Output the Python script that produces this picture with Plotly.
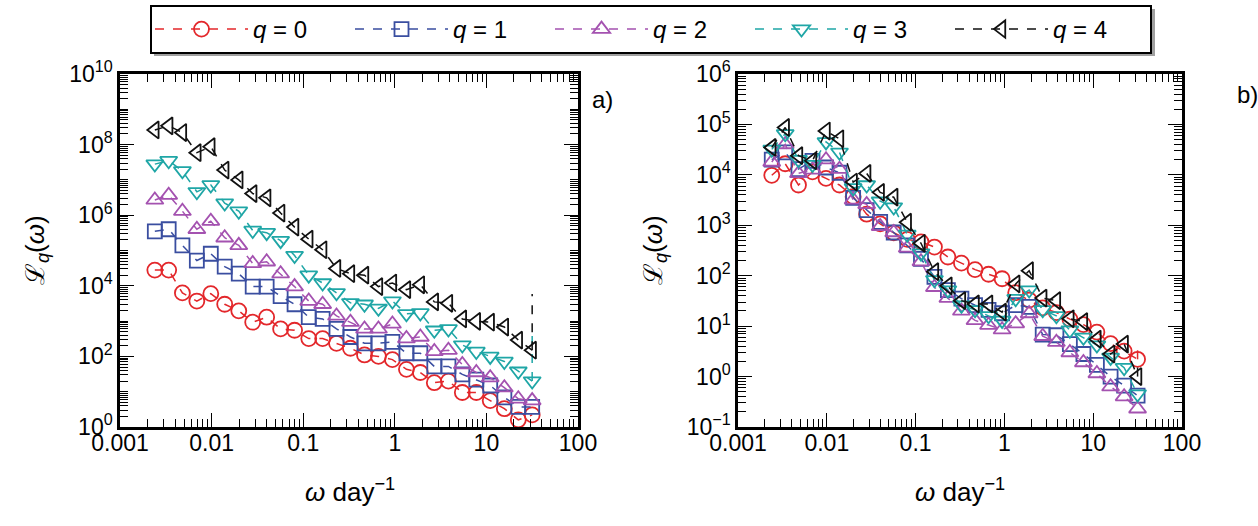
import plotly.graph_objects as go

# ---------------- data ----------------
omega = [0.0024, 0.0034, 0.0048, 0.0069, 0.0098, 0.0139, 0.0198, 0.0281, 0.0399, 0.0567,
         0.0805, 0.115, 0.163, 0.231, 0.328, 0.467, 0.663, 0.942, 1.34, 1.90,
         2.70, 3.85, 5.46, 7.76, 11.0, 15.7, 22.3, 31.6]

# panel a)
a_q0 = [2.79e4, 2.79e4, 6.3e3, 3.7e3, 6.0e3, 3.0e3, 1.95e3, 930, 1290, 600,
        550, 320, 320, 235, 170, 110, 100, 81, 43, 35,
        18, 20, 9.5, 9.5, 5.6, 3.3, 1.6, 2.2]
a_q1 = [3.5e5, 4.0e5, 1.4e5, 5.2e4, 8.1e4, 3.5e4, 2.2e4, 9.5e3, 9.5e3, 5.1e3,
        3.0e3, 1.3e3, 1.15e3, 600, 355, 235, 235, 257, 123, 123,
        52, 52, 31, 22, 15, 6.9, 3.7, 3.7]
a_q2 = [2.7e6, 3.7e6, 1.3e6, 4.0e5, 6.8e5, 2.3e5, 1.4e5, 4.3e4, 4.8e4, 2.2e4,
        9.5e3, 3.7e3, 3.0e3, 1.4e3, 930, 600, 600, 830, 320, 355,
        138, 150, 59, 35, 25, 13, 6.3, 5.6]
a_q3 = [2.8e7, 3.5e7, 1.8e7, 4.6e6, 7.2e6, 2.2e6, 1.3e6, 3.7e5, 3.2e5, 1.9e5,
        7.2e4, 2.0e4, 1.2e4, 6.3e3, 3.3e3, 3.0e3, 2.3e3, 3.7e3, 1.6e3, 1.7e3,
        550, 600, 210, 138, 100, 72, 38, 20]
a_q4 = [2.6e8, 3.4e8, 2.2e8, 5.9e7, 8.7e7, 1.9e7, 1.0e7, 4.1e6, 3.1e6, 1.15e6,
        4.6e5, 2.1e5, 1.05e5, 3.1e4, 2.2e4, 2.0e4, 9.5e3, 1.2e4, 7.8e3, 1.07e4,
        3.5e3, 3.2e3, 1.15e3, 980, 930, 680, 290, 150]
# end values of the dashed lines that leave the last point (None = no tail)
a_tails = [None, None, None, 630, 5.9e3]

# panel b)
b_q0 = [9.8e3, 1.66e4, 6.3e3, 1.15e4, 8.5e3, 6.3e3, 3.7e3, 1.66e3, 1.07e3, 710,
        525, 470, 370, 235, 178, 132, 107, 87, 46, 33,
        23, 18.6, 13.8, 10.7, 7.6, 4.5, 3.2, 2.2]
b_q1 = [2.0e4, 2.8e4, 1.3e4, 1.9e4, 1.4e4, 1.1e4, 3.5e3, 2.0e3, 1.17e3, 720,
        400, 215, 95, 52, 35, 26, 21, 18, 26, 24,
        6.8, 6.6, 4.4, 2.8, 1.7, 1.0, 0.66, 0.42]
b_q2 = [1.8e4, 4.0e4, 1.07e4, 1.26e4, 2.0e4, 1.3e4, 3.2e3, 2.6e3, 950, 720,
        355, 190, 59, 36, 20, 13, 10.5, 8.5, 11.2, 17.8,
        6.3, 4.8, 3.0, 1.9, 1.15, 0.63, 0.40, 0.23]
b_q3 = [3.2e4, 6.5e4, 2.0e4, 1.6e4, 4.5e4, 2.8e4, 5.5e3, 6.3e3, 3.0e3, 2.3e3,
        660, 280, 83, 52, 26, 21, 16, 13, 35, 52,
        21, 16, 8.3, 6.0, 4.2, 2.4, 1.5, 0.45]
b_q4 = [3.5e4, 8.7e4, 2.4e4, 1.9e4, 7.4e4, 5.2e4, 7.2e3, 1.07e4, 4.5e3, 3.6e3,
        1.15e3, 440, 120, 63, 32, 27.5, 27.5, 19, 69, 126,
        36, 32, 14, 12.3, 5.5, 2.8, 4.4, 1.0]
b_tails = [4.2, None, None, None, 1.6]

q_names = ["<i>q</i> = 0", "<i>q</i> = 1", "<i>q</i> = 2", "<i>q</i> = 3", "<i>q</i> = 4"]
x_tickvals = [0.001, 0.01, 0.1, 1, 10, 100]
x_ticktext = ["0.001", "0.01", "0.1", "1", "10", "100"]
ya_tickvals = [1, 1e2, 1e4, 1e6, 1e8, 1e10]
ya_ticktext = ["10<sup>0</sup>", "10<sup>2</sup>", "10<sup>4</sup>", "10<sup>6</sup>",
               "10<sup>8</sup>", "10<sup>10</sup>"]
yb_tickvals = [0.1, 1, 10, 100, 1e3, 1e4, 1e5, 1e6]
yb_ticktext = ["10<sup>−1</sup>", "10<sup>0</sup>", "10<sup>1</sup>", "10<sup>2</sup>",
               "10<sup>3</sup>", "10<sup>4</sup>", "10<sup>5</sup>", "10<sup>6</sup>"]

# ---------------- styling ----------------
colors = ["#e3272b", "#3a4ea0", "#a452b0", "#1fa6a6", "#111111"]
symbols = ["circle-open", "square-open", "triangle-up-open", "triangle-down-open", "triangle-left-open"]
sizes = [15, 14, 15, 15, 15]
FONT = "Liberation Sans, Arial, sans-serif"

fig = go.Figure()

panels = [
    ("x", "y", [a_q0, a_q1, a_q2, a_q3, a_q4], a_tails, True),
    ("x2", "y2", [b_q0, b_q1, b_q2, b_q3, b_q4], b_tails, False),
]
for xa, ya, series, tails, show in panels:
    for k, vals in enumerate(series):
        fig.add_trace(go.Scatter(
            x=omega, y=vals, xaxis=xa, yaxis=ya, mode="lines+markers",
            name=q_names[k], legendgroup=q_names[k], showlegend=show,
            line=dict(color=colors[k], width=1.5, dash="dash"),
            marker=dict(symbol=symbols[k], size=sizes[k], color=colors[k],
                        line=dict(width=1.8, color=colors[k])),
        ))
        if tails[k] is not None:
            fig.add_trace(go.Scatter(
                x=[omega[-1], omega[-1]], y=[vals[-1], tails[k]], xaxis=xa, yaxis=ya,
                mode="lines", showlegend=False, hoverinfo="skip",
                line=dict(color=colors[k], width=1.5, dash="dash"),
            ))

W, H = 1258, 526
ax_common = dict(
    type="log", showline=True, linecolor="black", linewidth=2.5, mirror="allticks",
    ticks="inside", ticklen=14, tickwidth=1.3, tickcolor="black", showgrid=False,
    zeroline=False, automargin=False, tickfont=dict(family=FONT, size=23, color="black"),
    minor=dict(ticks="inside", ticklen=8, tickwidth=1.1, tickcolor="black", dtick="D1", showgrid=False),
)
xdom_a = [120 / W, 578 / W]
xdom_b = [738 / W, 1182 / W]
ydom = [1 - 427 / H, 1 - 74 / H]

fig.update_layout(
    width=W, height=H, margin=dict(l=0, r=0, t=0, b=0, autoexpand=False),
    paper_bgcolor="white", plot_bgcolor="white",
    font=dict(family=FONT, color="black"),
    xaxis=dict(ax_common, domain=xdom_a, range=[-3, 2], tickvals=x_tickvals, ticktext=x_ticktext,
               anchor="y", ticklabelstandoff=-6),
    yaxis=dict(ax_common, domain=ydom, range=[0, 10], tickvals=ya_tickvals, ticktext=ya_ticktext, anchor="x"),
    xaxis2=dict(ax_common, domain=xdom_b, range=[-3, 2], tickvals=x_tickvals, ticktext=x_ticktext,
                anchor="y2", ticklabelstandoff=-6),
    yaxis2=dict(ax_common, domain=ydom, range=[-1, 6], tickvals=yb_tickvals, ticktext=yb_ticktext, anchor="x2"),
    showlegend=True,
    legend=dict(orientation="h", x=150 / W, xanchor="left", y=1 - 5 / H, yanchor="top",
                bordercolor="black", borderwidth=2, bgcolor="white",
                font=dict(family=FONT, size=24, color="black"),
                entrywidth=92, itemwidth=93, tracegroupgap=0),
    shapes=[dict(type="rect", xref="paper", yref="paper", x0=154 / W, x1=1155 / W,
                 y0=1 - 56 / H, y1=1 - 9 / H, fillcolor="#a0a0a0", line_width=0, layer="below")],
)

ann = [
    dict(x=37 / W, y=1 - 250 / H, text="ℒ<sub><i>q</i></sub>(<i>ω</i>)", textangle=-90, font_size=26),
    dict(x=655 / W, y=1 - 250 / H, text="ℒ<sub><i>q</i></sub>(<i>ω</i>)", textangle=-90, font_size=26),
    dict(x=350 / W, y=1 - 490 / H, text="<i>ω</i> day<sup>−1</sup>", font_size=26),
    dict(x=960 / W, y=1 - 490 / H, text="<i>ω</i> day<sup>−1</sup>", font_size=26),
    dict(x=602 / W, y=1 - 100 / H, text="a)", font_size=24),
    dict(x=1247 / W, y=1 - 95 / H, text="b)", font_size=24),
]
for a in ann:
    fig.add_annotation(xref="paper", yref="paper", showarrow=False, xanchor="center", yanchor="middle",
                       font=dict(family=FONT, color="black", size=a.pop("font_size")), **a)

fig.write_html("out.html", config={"displayModeBar": False},
               post_script="document.body.style.margin='0px';")
